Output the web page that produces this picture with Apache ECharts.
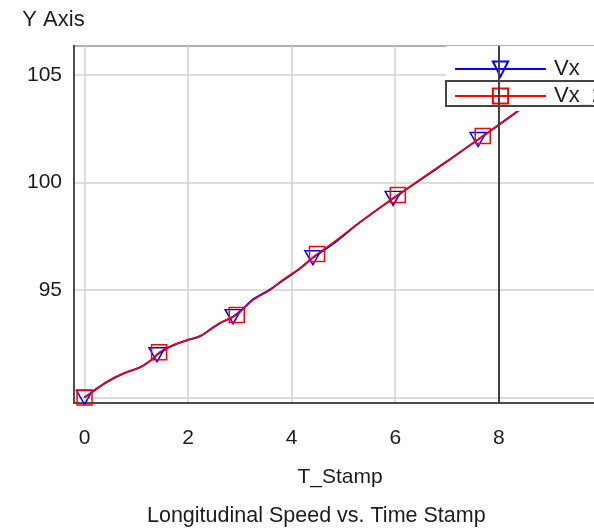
<!DOCTYPE html>
<html>
<head>
<meta charset="utf-8">
<script src="https://cdn.jsdelivr.net/npm/echarts@6/dist/echarts.min.js"></script>
<style>
  html, body { margin: 0; padding: 0; background: #fff; overflow: hidden; width: 594px; height: 528px; }
  #chart { width: 620px; height: 528px; }
</style>
</head>
<body>
<div id="chart"></div>
<script>
// ---- data ----
const tVx  = [0, 0.2, 0.43, 0.76, 1.09, 1.34, 1.40, 1.67, 1.98, 2.23, 2.45, 2.61, 2.87, 3.05, 3.25, 3.58, 3.83, 4.16, 4.41, 4.8, 5.32, 5.96, 6.5, 7.0, 7.6, 8.0, 8.47, 9.0, 9.5, 10.0];
const vx   = [90.0, 90.35, 90.72, 91.12, 91.42, 91.84, 91.99, 92.38, 92.66, 92.85, 93.2, 93.45, 93.76, 94.1, 94.55, 95.02, 95.45, 96.0, 96.5, 97.15, 98.15, 99.26, 100.15, 100.98, 102.0, 102.68, 103.5, 104.4, 105.25, 106.1];
const tVx2 = [0, 0.2, 0.43, 0.76, 1.09, 1.34, 1.44, 1.67, 1.98, 2.23, 2.45, 2.61, 2.94, 3.05, 3.25, 3.58, 3.83, 4.16, 4.49, 4.8, 5.32, 6.05, 6.5, 7.0, 7.69, 8.0, 8.47, 9.0, 9.5, 10.0];
const vx2  = [90.0, 90.33, 90.74, 91.14, 91.43, 91.85, 92.10, 92.40, 92.67, 92.86, 93.2, 93.47, 93.84, 94.08, 94.53, 95.0, 95.47, 96.02, 96.67, 97.2, 98.16, 99.42, 100.18, 101.0, 102.16, 102.68, 103.51, 104.42, 105.27, 106.12];
const markVx  = [0, 1.40, 2.87, 4.41, 5.96, 7.60];
const markVx2 = [0, 1.44, 2.94, 4.49, 6.05, 7.69];
const xTickLabels = ['0', '2', '4', '6', '8'];
const yTickLabels = ['95', '100', '105'];
const cursorT = 8;
const seriesNames = ['Vx', 'Vx_2'];
const xName = 'T_Stamp';
const yName = 'Y Axis';
const titleText = 'Longitudinal Speed vs. Time Stamp';

const FONT = 'Liberation Sans, Arial, sans-serif';
const TXT = '#1c1c1c';

function build(ts, vs, marks) {
  return ts.map((t, i) => marks.indexOf(t) >= 0 ? { value: [t, vs[i]] } : { value: [t, vs[i]], symbol: 'none' });
}

const chart = echarts.init(document.getElementById('chart'), null, { renderer: 'canvas' });
chart.setOption({
  animation: false,
  backgroundColor: '#fff',
  title: {
    text: titleText,
    left: 147, top: 505, padding: 0,
    textStyle: { fontFamily: FONT, fontSize: 21.5, fontWeight: 'normal', color: TXT }
  },
  grid: {
    left: 74, top: 46, height: 357, width: 532,
    show: true, borderColor: '#4d4d4d', borderWidth: 2, backgroundColor: 'transparent'
  },
  legend: {
    data: seriesNames,
    orient: 'vertical',
    left: 446, top: 46,
    padding: [12, 60, 4, 8],
    itemGap: 5,
    itemWidth: 91, itemHeight: 19,
    backgroundColor: '#fff',
    textStyle: { fontFamily: FONT, fontSize: 22, color: TXT, lineHeight: 19, padding: [0, 0, 0, 3] },
    z: 5
  },
  xAxis: {
    type: 'value',
    min: -0.203, max: 10.07,
    splitNumber: 5,
    name: xName, nameLocation: 'middle', nameGap: 64,
    nameTextStyle: { fontFamily: FONT, fontSize: 21, color: TXT },
    axisLine: { show: true, onZero: false, lineStyle: { color: '#4d4d4d', width: 2 } },
    axisTick: { show: false },
    axisLabel: {
      fontFamily: FONT, fontSize: 21, color: TXT, margin: 25,
      showMinLabel: false, showMaxLabel: false,
      formatter: v => xTickLabels.indexOf(String(v)) >= 0 ? String(v) : ''
    },
    splitLine: { show: true, lineStyle: { color: '#d0d0d0', width: 1.5 } }
  },
  yAxis: {
    type: 'value',
    min: 89.744, max: 106.35,
    splitNumber: 3,
    name: yName, nameLocation: 'end', nameGap: 15,
    nameTextStyle: { fontFamily: FONT, fontSize: 22, color: TXT, padding: [0, 41, 0, 0] },
    axisLine: { show: true, onZero: false, lineStyle: { color: '#4d4d4d', width: 2 } },
    axisTick: { show: false },
    axisLabel: {
      fontFamily: FONT, fontSize: 21, color: TXT, margin: 12,
      showMinLabel: false, showMaxLabel: false,
      formatter: v => yTickLabels.indexOf(String(v)) >= 0 ? String(v) : ''
    },
    splitLine: { show: true, lineStyle: { color: '#d0d0d0', width: 1.5 } }
  },
  series: [
    {
      name: seriesNames[0], type: 'line',
      data: build(tVx, vx, markVx),
      smooth: 0.35,
      showAllSymbol: true,
      symbol: 'triangle', symbolRotate: 180, symbolSize: [16, 14],
      lineStyle: { color: '#0000ff', width: 2 },
      itemStyle: { color: 'rgba(255,255,255,0)', borderColor: '#0000ff', borderWidth: 1.5 },
      z: 2
    },
    {
      name: seriesNames[1], type: 'line',
      data: build(tVx2, vx2, markVx2),
      smooth: 0.35,
      showAllSymbol: true,
      symbol: 'rect', symbolSize: 15,
      lineStyle: { color: '#ff0000', width: 1.5 },
      itemStyle: { color: 'rgba(255,255,255,0)', borderColor: '#ff0000', borderWidth: 1.5 },
      z: 3
    },
    {
      name: 'cursor', type: 'line', data: [], z: 10,
      markLine: {
        silent: true, symbol: 'none', label: { show: false },
        lineStyle: { color: '#404040', width: 2, type: 'solid' },
        data: [{ xAxis: cursorT }]
      }
    }
  ],
  graphic: [
    {
      type: 'rect', z: 100,
      shape: { x: 446, y: 81, width: 200, height: 25 },
      style: { fill: 'none', stroke: '#444', lineWidth: 2 }
    }
  ]
});
</script>
</body>
</html>
